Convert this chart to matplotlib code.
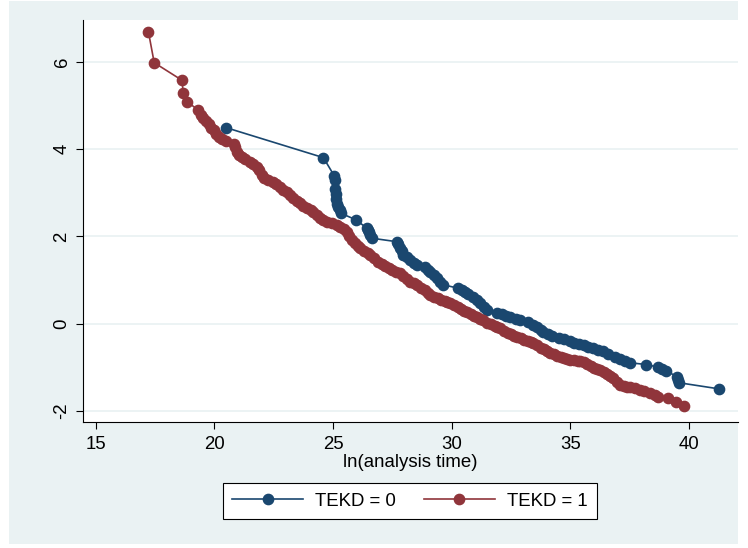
import matplotlib
matplotlib.use("Agg")
import matplotlib.pyplot as plt
from matplotlib.patches import Rectangle

plt.rcParams['font.family'] = ['Liberation Sans', 'DejaVu Sans']

# TEKD = 0 : ln(analysis time) and -ln(-ln(survival))
x0 = [20.48, 24.59, 25.05, 25.07, 25.08, 25.10, 25.11, 25.16, 25.20, 25.28, 25.34,
      25.97, 26.42, 26.47, 26.52, 26.57, 26.63, 27.68, 27.75, 27.82, 27.90, 27.96,
      28.10, 28.25, 28.40, 28.53, 28.88, 29.00, 29.09, 29.23, 29.37, 29.50, 29.65,
      30.28, 30.45, 30.56, 30.70, 30.91, 31.05, 31.20, 31.35, 31.48, 31.90, 32.10,
      32.30, 32.46, 32.70, 32.88, 33.20, 33.44, 33.60, 33.75, 33.86, 34.05, 34.22,
      34.50, 34.73, 35.00, 35.16, 35.35, 35.55, 35.75, 35.97, 36.15, 36.39, 36.60,
      36.88, 37.10, 37.30, 37.51, 38.19, 38.68, 38.85, 39.03, 39.48, 39.52, 39.59,
      41.27]
y0 = [4.50, 3.81, 3.39, 3.30, 3.09, 2.98, 2.86, 2.74, 2.68, 2.60, 2.53,
      2.38, 2.19, 2.15, 2.11, 2.04, 1.96, 1.88, 1.82, 1.73, 1.66, 1.58,
      1.53, 1.47, 1.40, 1.35, 1.31, 1.24, 1.19, 1.12, 1.04, 0.96, 0.89,
      0.81, 0.77, 0.73, 0.68, 0.62, 0.54, 0.47, 0.39, 0.31, 0.25, 0.21,
      0.17, 0.14, 0.11, 0.08, 0.03, -0.03, -0.09, -0.15, -0.19, -0.25, -0.29,
      -0.32, -0.36, -0.41, -0.44, -0.47, -0.49, -0.53, -0.57, -0.60, -0.64, -0.69,
      -0.76, -0.81, -0.85, -0.90, -0.94, -1.00, -1.05, -1.08, -1.22, -1.29, -1.36,
      -1.50]

# TEKD = 1
x1 = [17.22, 17.46, 18.62, 18.69, 18.86, 19.32, 19.45, 19.53, 19.65, 19.75, 19.85,
      19.96, 20.05, 20.17, 20.30, 20.48, 20.83, 20.88, 20.94, 21.02, 21.15, 21.30,
      21.50, 21.62, 21.78, 21.88, 21.99, 22.10, 22.27, 22.45, 22.60, 22.77, 22.90,
      23.05, 23.19, 23.32, 23.47, 23.61, 23.75, 23.90, 24.05, 24.17, 24.30, 24.45,
      24.59, 24.75, 24.95, 25.16, 25.30, 25.45, 25.58, 25.68, 25.79, 25.92, 26.03,
      26.14, 26.30, 26.45, 26.56, 26.72, 26.91, 27.05, 27.20, 27.35, 27.50, 27.65,
      27.82, 27.95, 28.10, 28.25, 28.40, 28.53, 28.70, 28.85, 29.00, 29.10, 29.23,
      29.40, 29.55, 29.70, 29.80, 29.93, 30.10, 30.25, 30.40, 30.50, 30.63, 30.80,
      30.95, 31.05, 31.20, 31.33, 31.50, 31.65, 31.80, 31.92, 32.04, 32.20, 32.35,
      32.50, 32.62, 32.74, 32.90, 33.05, 33.20, 33.32, 33.44, 33.60, 33.75, 33.90,
      34.02, 34.15, 34.30, 34.45, 34.60, 34.72, 34.85, 35.00, 35.15, 35.30, 35.42,
      35.55, 35.70, 35.85, 36.00, 36.12, 36.25, 36.40, 36.55, 36.68, 36.81, 36.95,
      37.09, 37.25, 37.40, 37.51, 37.70, 37.93, 38.10, 38.36, 38.55, 38.71, 39.13,
      39.46, 39.79]
y1 = [6.69, 5.99, 5.59, 5.30, 5.09, 4.90, 4.80, 4.72, 4.64, 4.58, 4.50,
      4.44, 4.36, 4.29, 4.24, 4.20, 4.13, 4.05, 3.95, 3.88, 3.82, 3.78,
      3.72, 3.67, 3.60, 3.52, 3.41, 3.35, 3.30, 3.25, 3.20, 3.14, 3.07,
      3.01, 2.95, 2.89, 2.82, 2.76, 2.70, 2.65, 2.60, 2.57, 2.50, 2.43,
      2.38, 2.33, 2.30, 2.26, 2.22, 2.16, 2.11, 2.02, 1.92, 1.84, 1.78,
      1.73, 1.67, 1.62, 1.58, 1.50, 1.42, 1.37, 1.32, 1.28, 1.24, 1.19,
      1.15, 1.09, 1.02, 0.96, 0.93, 0.89, 0.82, 0.76, 0.70, 0.66, 0.62,
      0.58, 0.55, 0.52, 0.50, 0.47, 0.42, 0.38, 0.33, 0.30, 0.27, 0.22,
      0.18, 0.15, 0.11, 0.08, 0.02, -0.02, -0.06, -0.09, -0.11, -0.17, -0.21,
      -0.25, -0.28, -0.30, -0.34, -0.37, -0.40, -0.43, -0.45, -0.50, -0.55, -0.59,
      -0.63, -0.67, -0.71, -0.74, -0.77, -0.79, -0.81, -0.83, -0.84, -0.86, -0.87,
      -0.89, -0.93, -0.97, -1.01, -1.04, -1.07, -1.11, -1.15, -1.20, -1.26, -1.34,
      -1.41, -1.44, -1.45, -1.46, -1.49, -1.52, -1.55, -1.59, -1.64, -1.68, -1.72,
      -1.79, -1.89]

labels = ["TEKD = 0", "TEKD = 1"]
xticks = [15, 20, 25, 30, 35, 40]
yticks = [-2, 0, 2, 4, 6]

BLUE = "#1A476F"
RED = "#90353B"
BG = "#EAF2F3"

W, H = 748, 548
fig = plt.figure(figsize=(W / 100, H / 100), dpi=100)
fig.patch.set_facecolor("white")
fig.patches.append(Rectangle((9 / W, 1 - 544 / H), 729 / W, 543 / H,
                             transform=fig.transFigure, facecolor=BG,
                             edgecolor="none", zorder=-10))

ax = fig.add_axes([83 / W, 1 - 422 / H, (738 - 83) / W, (422 - 20) / H])
ax.set_zorder(5)
ax.set_facecolor("white")

ax.plot(x0, y0, color=BLUE, lw=1.2, marker="o", ms=7.4, mec=BLUE, mfc=BLUE,
        label=labels[0], zorder=3)
ax.plot(x1, y1, color=RED, lw=1.2, marker="o", ms=7.4, mec=RED, mfc=RED,
        label=labels[1], zorder=4)

ax.set_xlim(14.46, 42.06)
ax.set_ylim(-2.26, 6.97)
ax.set_xticks(xticks)
ax.set_yticks(yticks)
ax.set_yticklabels([str(t) for t in yticks], rotation=90, va="center")
ax.tick_params(axis="both", labelsize=13.4, length=5, width=0.8, color="black")
ax.tick_params(axis="x", pad=5)
ax.tick_params(axis="y", pad=4)

ax.grid(axis="y", color=BG, lw=1.3, zorder=0)
ax.set_axisbelow(True)
for s in ["top", "right"]:
    ax.spines[s].set_visible(False)
for s in ["left", "bottom"]:
    ax.spines[s].set_color("black")
    ax.spines[s].set_linewidth(0.8)

ax.set_xlabel("ln(analysis time)", fontsize=13.4, labelpad=1)

leg = fig.legend(loc="center", bbox_to_anchor=(410 / W, 1 - 501 / H), ncol=2,
                 fontsize=13.4, numpoints=1, handlelength=3.8,
                 handletextpad=0.65, columnspacing=1.5, frameon=True,
                 fancybox=False, borderpad=0.5, framealpha=1)
leg.get_frame().set_edgecolor("black")
leg.get_frame().set_linewidth(0.8)
leg.get_frame().set_facecolor("white")
leg.set_zorder(6)

fig.savefig("out.png", dpi=100, facecolor=fig.get_facecolor())
